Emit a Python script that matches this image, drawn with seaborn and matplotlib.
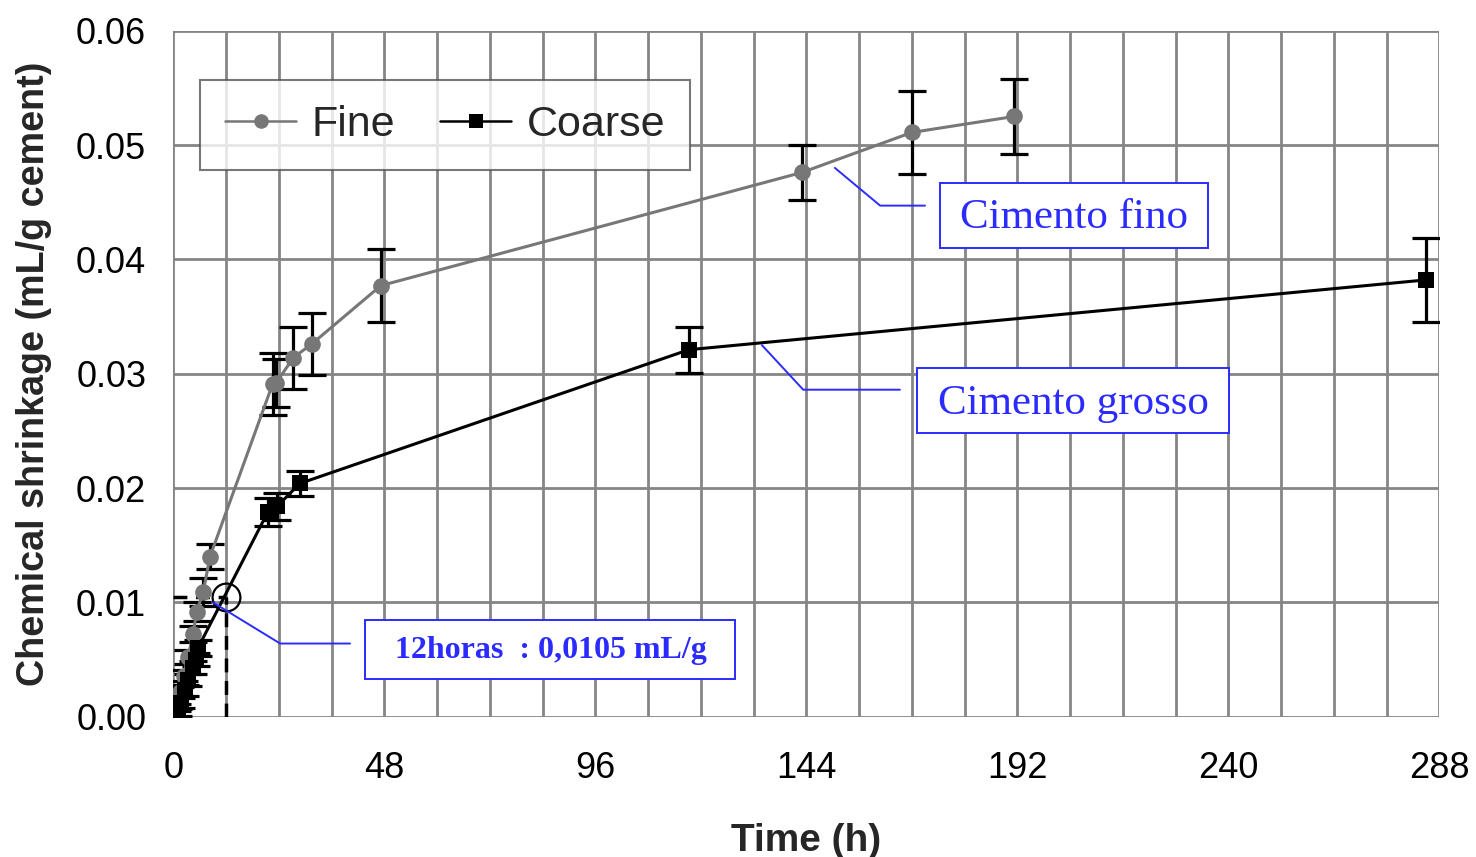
import matplotlib
matplotlib.use("Agg")
import matplotlib.pyplot as plt
from matplotlib.patches import Rectangle
import seaborn as sns
import pandas as pd
import numpy as np

# Chemical shrinkage measurements (mL/g cement) vs hydration time (h)
fine_t = [0.8, 1.5, 2.4, 3.3, 4.5, 5.3, 6.8, 8.35, 22.6, 23.4, 27.3, 31.5, 47.2, 143.0, 168.0, 191.3]
fine_y = [0.0008, 0.0022, 0.0036, 0.0052, 0.0072, 0.0092, 0.0109, 0.0140,
          0.0291, 0.0292, 0.0314, 0.0326, 0.0377, 0.0476, 0.0511, 0.0525]
fine_err = [0.0003, 0.0004, 0.0005, 0.0006, 0.0007, 0.0008, 0.0012, 0.0011,
            0.0027, 0.0021, 0.0027, 0.0027, 0.0032, 0.0024, 0.0036, 0.0033]

coarse_t = [1.1, 1.75, 2.7, 3.3, 4.4, 5.2, 5.6, 21.5, 23.6, 28.8, 117.3, 284.9]
coarse_y = [0.0004, 0.0012, 0.0023, 0.0032, 0.0043, 0.0050, 0.0060,
            0.0179, 0.0184, 0.0204, 0.0321, 0.0382]
coarse_err = [0.0003, 0.0004, 0.0005, 0.0005, 0.0006, 0.0006, 0.0007,
              0.0012, 0.0012, 0.0011, 0.0020, 0.0037]

x_ticks = [0, 48, 96, 144, 192, 240, 288]
y_ticks = [0.00, 0.01, 0.02, 0.03, 0.04, 0.05, 0.06]

mark_t, mark_y = 12, 0.0105
mark_label = "12horas  : 0,0105 mL/g"

sns.set_style("white")
plt.rcParams["font.family"] = ["Liberation Sans", "DejaVu Sans"]

fig = plt.figure(figsize=(14.76, 8.57), dpi=100)
ax = fig.add_axes([173.3 / 1476, 1 - 716.7 / 857, 1266 / 1476, 686 / 857])

df = pd.concat([
    pd.DataFrame({"t": fine_t, "y": fine_y, "s": "Fine"}),
    pd.DataFrame({"t": coarse_t, "y": coarse_y, "s": "Coarse"}),
], ignore_index=True)

# Error bars
for tt, yy, ee in [(fine_t, fine_y, fine_err), (coarse_t, coarse_y, coarse_err)]:
    ax.errorbar(tt, yy, yerr=ee, fmt="none", ecolor="black",
                elinewidth=2.3, capsize=10, capthick=2.3, zorder=3)

sns.lineplot(data=df, x="t", y="y", hue="s", style="s",
             palette={"Fine": "#777777", "Coarse": "#000000"},
             markers={"Fine": "o", "Coarse": "s"}, dashes=False,
             markersize=12, markeredgewidth=0, linewidth=2.2,
             estimator=None, sort=False, ax=ax, zorder=4)

# 12 h reference
ax.plot([mark_t, mark_t], [0, mark_y], color="black", lw=2.5,
        ls=(0, (4, 2.5)), zorder=5)
ax.plot([0, mark_t], [mark_y, mark_y], color="black", lw=2.5,
        ls=(0, (4, 2.5)), zorder=2)
ax.plot([mark_t], [mark_y], marker="o", ms=20, mfc="none", mec="black",
        mew=1.6, zorder=6)

ax.set_xlim(0, 288)
ax.set_ylim(0, 0.06)
ax.set_xticks(x_ticks)
ax.set_xticks(np.arange(0, 289, 12), minor=True)
ax.set_yticks(y_ticks)
ax.set_yticklabels([f"{v:.2f}" for v in y_ticks])
ax.grid(True, which="both", color="#858585", lw=2.0)
ax.set_axisbelow(True)
for sp in ax.spines.values():
    sp.set_visible(False)
ax.tick_params(axis="both", which="major", labelsize=26, colors="#858585",
               labelcolor="black", width=1.8, direction="out")
ax.tick_params(axis="y", which="major", length=8.5, pad=11)
ax.tick_params(axis="x", which="major", length=7, pad=18)
ax.tick_params(axis="x", which="minor", length=0)

ax.set_xlabel("Time (h)", fontsize=28, fontweight="bold", labelpad=26)
ax.set_ylabel("Chemical shrinkage (mL/g cement)", fontsize=27.2,
              fontweight="bold", labelpad=17)

leg = ax.legend(loc="upper left", bbox_to_anchor=(0.0211, 0.928),
                borderaxespad=0, ncol=2, fontsize=31, frameon=True,
                fancybox=False, handlelength=1.65, columnspacing=1.05,
                handletextpad=0.36, borderpad=0.58)
leg.get_frame().set_edgecolor("#555555")
leg.get_frame().set_linewidth(1.5)
for h in leg.legend_handles:
    h.set_markersize(10.5)
    h.set_linewidth(1.8)

# Callout labels: framed text with elbow leader lines
blue = "#2b2bff"
serif = ["Liberation Serif", "DejaVu Serif"]
callouts = [
    # text, box (t0, t1, y0, y1), text centre, leader path, size, weight
    ("Cimento fino", (174.4, 235.4, 0.04099, 0.04668), (205.0, 0.0436),
     [(150.5, 0.0480), (160.8, 0.0447), (171.0, 0.0447)], 31, "normal"),
    ("Cimento grosso", (169.2, 240.1, 0.02481, 0.0305), (204.8, 0.0274),
     [(133.9, 0.0325), (143.3, 0.0286), (165.3, 0.0286)], 31, "normal"),
    (mark_label, (43.6, 127.8, 0.0033, 0.00846), (85.8, 0.00583),
     [(9.0, 0.0100), (24.3, 0.0064), (40.2, 0.0064)], 23, "bold"),
]
for text, (t0, t1, y0, y1), (tc, yc), path, size, weight in callouts:
    ax.add_patch(Rectangle((t0, y0), t1 - t0, y1 - y0, fc="white", ec=blue,
                           lw=1.4, zorder=7))
    ax.text(tc, yc, text, fontsize=size, family=serif, fontweight=weight,
            color=blue, ha="center", va="center", zorder=8)
    px, py = zip(*path)
    ax.plot(px, py, color=blue, lw=1.4, zorder=7)

fig.savefig("out.png", dpi=100)
